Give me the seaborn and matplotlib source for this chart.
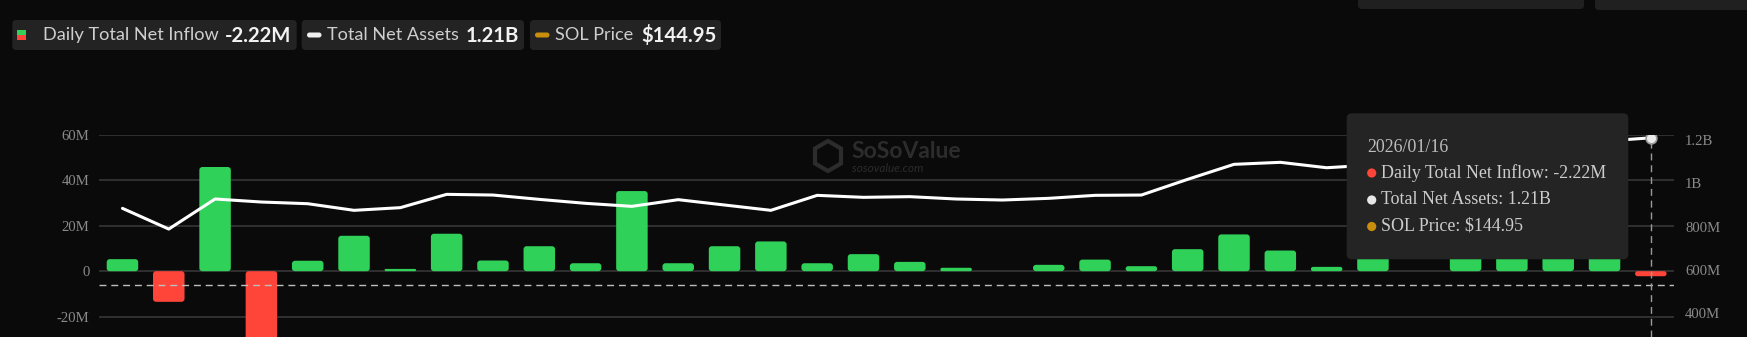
import numpy as np
import pandas as pd
import matplotlib
matplotlib.use("Agg")
import matplotlib.pyplot as plt
import seaborn as sns
from matplotlib.patches import FancyBboxPatch, RegularPolygon, Circle, Rectangle
from matplotlib.transforms import Affine2D

# ---------------- data ----------------
dates = ["2025-11-28", "2025-12-01", "2025-12-02", "2025-12-03", "2025-12-04", "2025-12-05",
         "2025-12-08", "2025-12-09", "2025-12-10", "2025-12-11", "2025-12-12", "2025-12-15",
         "2025-12-16", "2025-12-17", "2025-12-18", "2025-12-19", "2025-12-22", "2025-12-23",
         "2025-12-24", "2025-12-26", "2025-12-29", "2025-12-30", "2025-12-31", "2026-01-02",
         "2026-01-05", "2026-01-06", "2026-01-07", "2026-01-08", "2026-01-09", "2026-01-12",
         "2026-01-13", "2026-01-14", "2026-01-15", "2026-01-16"]
net_inflow_m = [5.3, -13.5, 45.9, -36.0, 4.6, 15.6, 1.0, 16.5, 4.7, 11.0, 3.5, 35.3,
                3.5, 11.0, 13.1, 3.5, 7.5, 4.1, 1.5, 0.0, 2.8, 5.1, 2.2, 9.7,
                16.2, 9.1, 1.9, 8.5, 0.0, 12.0, 7.0, 14.0, 6.5, -2.22]
net_assets_m = [884.6, 789.0, 927.7, 913.8, 906.0, 875.4, 887.7, 949.2, 946.0, 926.0,
                907.7, 893.8, 924.6, 900.0, 875.4, 944.6, 935.4, 938.5, 927.7, 923.0,
                930.8, 944.6, 946.0, 1018.5, 1087.7, 1097.0, 1072.0, 1085.0, 1110.0, 1140.0,
                1165.0, 1180.0, 1195.0, 1210.0]
left_ticks = [-20, 0, 20, 40, 60]
left_tick_labels = ["-20M", "0", "20M", "40M", "60M"]
right_ticks = [400, 600, 800, 1000, 1200]
right_tick_labels = ["400M", "600M", "800M", "1B", "1.2B"]
cursor_inflow = -6.2
legend_items = [("Daily Total Net Inflow", "-2.22M"), ("Total Net Assets", "1.21B"), ("SOL Price", "$144.95")]
tooltip_date = "2026/01/16"
tooltip_lines = ["Daily Total Net Inflow: -2.22M", "Total Net Assets: 1.21B", "SOL Price: $144.95"]

# ---------------- style ----------------
BG = "#0a0a0a"
GREEN = "#30d158"
RED = "#ff453a"
ORANGE = "#c98e0c"
GRID = "#393939"
TICK = "#8a8a8a"
PANEL = "#232323"

sns.set_style("dark", rc={"axes.facecolor": BG, "figure.facecolor": BG})
plt.rcParams["font.family"] = ["Liberation Serif", "DejaVu Serif"]

W, H = 1747, 337
fig = plt.figure(figsize=(W / 100, H / 100), dpi=100, facecolor=BG)
T = Affine2D().scale(1 / W, -1 / H).translate(0, 1) + fig.transFigure

x_left, x_right, y_top = 99.3, 1674.0, 135.0
ax = fig.add_axes([x_left / W, 0, (x_right - x_left) / W, (H - y_top) / H])
ax.set_facecolor(BG)

df = pd.DataFrame({"date": dates, "inflow": net_inflow_m})
df["sign"] = np.where(df["inflow"] >= 0, "pos", "neg")
sns.barplot(data=df, x="date", y="inflow", hue="sign", palette={"pos": GREEN, "neg": RED},
            dodge=False, legend=False, width=0.68, saturation=1, ax=ax, zorder=3)

n = len(dates)
ax.set_xlim(-0.5, n - 0.5)
ax.set_ylim(-29.0, 60.0)

# rounded bar corners
x_per_px = n / (x_right - x_left)
y_per_px = 89.0 / (H - y_top)
aspect = y_per_px / x_per_px
for p in list(ax.patches):
    x0, y0, w, h = p.get_x(), p.get_y(), p.get_width(), p.get_height()
    fc = p.get_facecolor()
    p.remove()
    if h == 0:
        continue
    yb = min(y0, y0 + h)
    hh = abs(h)
    r = min(3.0 * x_per_px, w / 2, (hh / aspect) / 2)
    fb = FancyBboxPatch((x0, yb), w, hh, boxstyle=f"round,pad=0,rounding_size={r}",
                        mutation_aspect=aspect, facecolor=fc, edgecolor="none", zorder=3)
    ax.add_patch(fb)

ax.set_yticks(left_ticks)
ax.set_yticklabels(left_tick_labels)
ax.set_xticks([])
ax.set_xlabel("")
ax.set_ylabel("")
ax.tick_params(axis="y", length=0, pad=7, labelsize=10.6, labelcolor=TICK)
ax.yaxis.grid(True, color=GRID, lw=1.1)
ax.xaxis.grid(False)
ax.set_axisbelow(True)
for s in ax.spines.values():
    s.set_visible(False)

# crosshair
ax.axhline(cursor_inflow, color="#bdbdbd", lw=1.0, ls=(0, (5, 3.5)), zorder=4)
ax.axvline(n - 1, color="#9a9a9a", lw=1.0, ls=(0, (5, 3.5)), zorder=4)

# assets line on the right axis
ax2 = ax.twinx()
sns.lineplot(x=np.arange(n), y=net_assets_m, ax=ax2, color="white", lw=2.2, zorder=5)
sns.scatterplot(x=[n - 1], y=[net_assets_m[-1]], ax=ax2, s=60, color="#ececec",
                edgecolor="#9a9a9a", linewidth=1.2, zorder=6)
ax2.set_ylim(290.8, 1223.1)
ax2.set_xlim(-0.5, n - 0.5)
ax2.set_yticks(right_ticks)
ax2.set_yticklabels(right_tick_labels)
ax2.set_ylabel("")
ax2.grid(False)
ax2.tick_params(axis="y", length=0, pad=8, labelsize=10.6, labelcolor=TICK)
for s in ax2.spines.values():
    s.set_visible(False)


def rbox(x0, y0, x1, y1, r, color, z=10, **kw):
    b = FancyBboxPatch((x0, y0), x1 - x0, y1 - y0, boxstyle=f"round,pad=0,rounding_size={r}",
                       transform=T, facecolor=color, edgecolor="none", zorder=z, **kw)
    fig.add_artist(b)
    return b


# ---------------- watermark ----------------
fig.add_artist(RegularPolygon((828, 156), numVertices=6, radius=15, orientation=0, transform=T,
                              fill=False, edgecolor="#2c2c2c", lw=3, zorder=2))
fig.text(851, 151, "SoSoValue", transform=T, fontsize=16.5, fontweight="bold", color="#2c2c2c",
         family=["Lato", "DejaVu Sans"], va="center", ha="left", zorder=2)
fig.text(852, 168, "sosovalue.com", transform=T, fontsize=8.5, style="italic", color="#2c2c2c",
         family=["Lato", "DejaVu Sans"], va="center", ha="left", zorder=2)

# ---------------- top legend ----------------
LFONT = ["Lato", "DejaVu Sans"]
boxes = [(12.3, 296.7), (301.7, 524.0), (530.0, 721.0)]
label_x = [43.3, 327.5, 555.0]
value_x = [225.0, 466.0, 641.0]
for (bx0, bx1), (lab, val), lx, vx in zip(boxes, legend_items, label_x, value_x):
    rbox(bx0, 20, bx1, 50, 4, PANEL)
    fig.text(lx, 35, lab, transform=T, fontsize=13.1, color="#cfcfcf", family=LFONT,
             va="center", ha="left", zorder=11)
    fig.text(vx, 35.5, val, transform=T, fontsize=14.6, fontweight="bold", color="#f2f2f2",
             family=LFONT, va="center", ha="left", zorder=11)
# legend icons
fig.add_artist(Rectangle((17, 30), 9, 5, transform=T, facecolor=GREEN, edgecolor="none", zorder=11))
fig.add_artist(Rectangle((17, 35), 9, 5, transform=T, facecolor=RED, edgecolor="none", zorder=11))
rbox(307, 32.5, 321.5, 37.5, 2.5, "#f0f0f0", z=11)
rbox(535, 32.5, 549.5, 37.5, 2.5, ORANGE, z=11)

# partial controls at top right
rbox(1358, -12, 1584, 9, 4, "#202020", z=9)
rbox(1595, -12, 1760, 10, 4, "#202020", z=9)

# ---------------- tooltip ----------------
rbox(1346.7, 113.3, 1628.3, 259.3, 5, "#242424", z=20)
fig.text(1367, 147.5, tooltip_date, transform=T, fontsize=12.9, color="#bdbdbd",
         va="center", ha="left", zorder=21)
dot_colors = [RED, "#e6e6e6", ORANGE]
for yy, txt, dc in zip([173.0, 200.0, 226.5], tooltip_lines, dot_colors):
    fig.add_artist(Circle((1371.7, yy), 4.6, transform=T, facecolor=dc, edgecolor="none", zorder=21))
    fig.text(1381.5, yy, txt, transform=T, fontsize=12.9, color="#cccccc",
             va="center", ha="left", zorder=21)

fig.savefig("out.png", dpi=100, facecolor=BG)
